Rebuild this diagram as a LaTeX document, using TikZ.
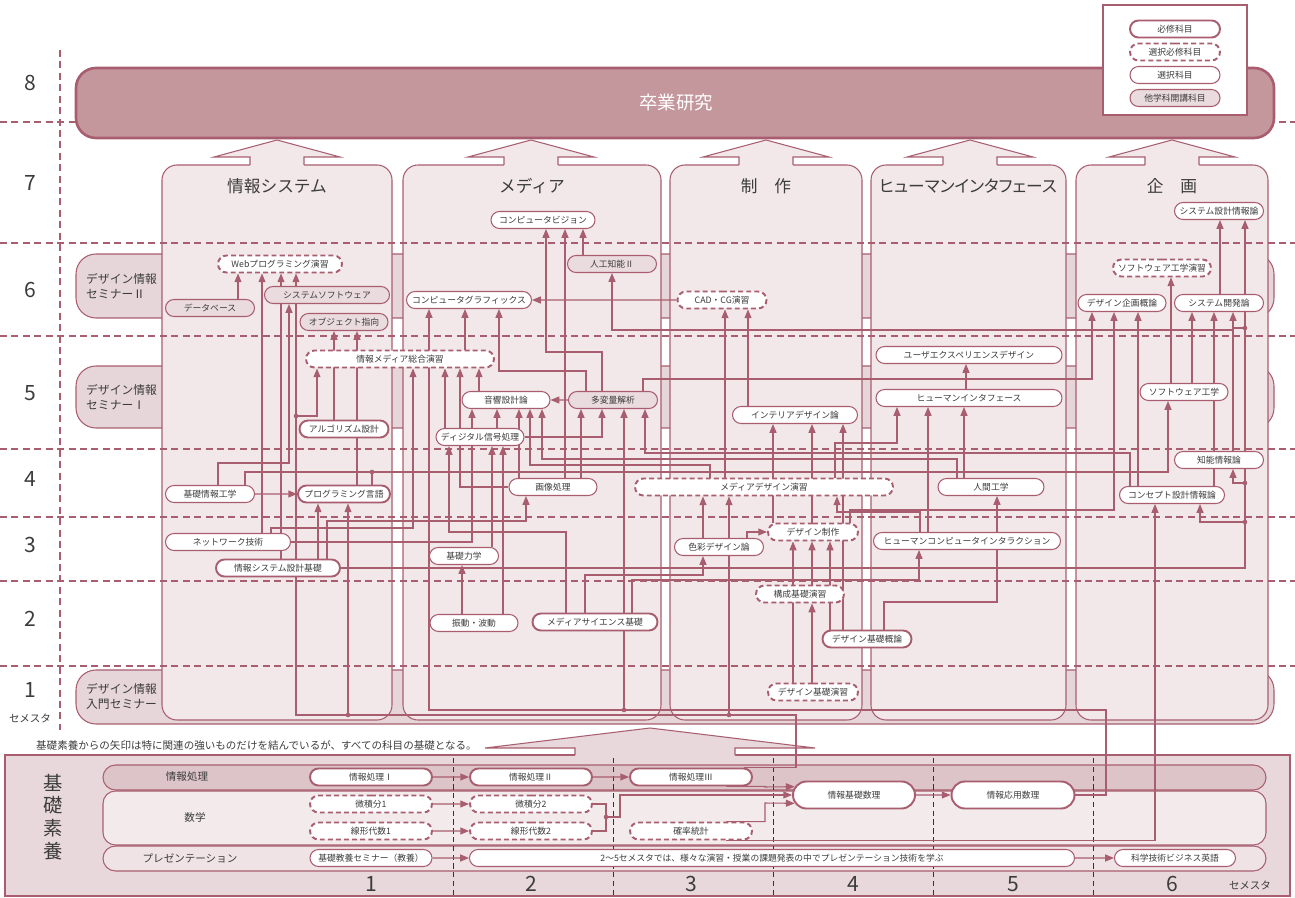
\documentclass[tikz,border=0pt]{standalone}
\usepackage{fontspec}
\setmainfont{Noto Sans CJK JP}
\usetikzlibrary{arrows.meta,shapes.misc}

\definecolor{rose}{RGB}{168,94,110}
\definecolor{colfill}{RGB}{242,232,234}
\definecolor{semfill}{RGB}{230,213,217}
\definecolor{gradfill}{RGB}{196,151,157}
\definecolor{othfill}{RGB}{234,219,222}
\definecolor{kisofill}{RGB}{232,216,219}
\definecolor{rowdark}{RGB}{220,196,200}
\definecolor{rowlight}{RGB}{243,234,236}
\definecolor{txt}{RGB}{60,60,60}

\pgfdeclarelayer{back}
\pgfdeclarelayer{wires}
\pgfsetlayers{back,wires,main}

\tikzset{
  subj/.style={rounded rectangle, draw=rose, fill=white, text=txt, inner sep=0pt,
    minimum height=0.34cm, font=\fontsize{5}{6}\selectfont},
  req/.style={subj, line width=1.1pt},
  selreq/.style={subj, line width=1.1pt, dash pattern=on 2.8pt off 1.8pt},
  sel/.style={subj, line width=0.6pt},
  oth/.style={subj, line width=0.6pt, fill=othfill},
  wd/.style={minimum width=#1*0.02cm},
  wire/.style={draw=rose, line width=0.6pt},
  arr/.style={wire, -{Triangle[length=5pt,width=4pt]}},
  semline/.style={draw=rose, line width=0.6pt, dash pattern=on 4pt off 2.5pt},
  coltitle/.style={text=txt, font=\fontsize{9.5}{11}\selectfont},
  semnum/.style={text=txt, font=\fontsize{12}{14}\selectfont},
  seminar/.style={text=txt, anchor=west, align=left, font=\fontsize{6.7}{8.5}\selectfont},
  rowlabel/.style={text=txt, font=\fontsize{6}{7}\selectfont},
}

\begin{document}
\begin{tikzpicture}[x=0.02cm,y=-0.02cm]
\useasboundingbox (0,0) rectangle (1295,898);

\begin{pgfonlayer}{back}
% seminar strips
\foreach \ya/\yb in {254/318,366/428,670/724}
  \draw[rose, fill=semfill, line width=0.6pt, rounded corners=0.4cm] (76,\ya) rectangle (1274,\yb);
% areas
\foreach \xa/\xb in {162/392,403/661,670/862,871/1066,1076/1268}
  \draw[rose, fill=colfill, line width=0.6pt, rounded corners=0.3cm] (\xa,165) rectangle (\xb,720);
% semesters
\foreach \y in {122,243,336,449,517,581,666}
  \draw[semline] (0,\y) -- (1295,\y);
\draw[semline] (60,50) -- (60,730);
% graduation research
\draw[rose, fill=gradfill, line width=1.5pt, rounded corners=0.4cm] (76,68) rectangle (1274,138);
\foreach \cx in {277,531,766,970,1172}{
  \fill[colfill] (\cx-27,167) -- (\cx-27,157) -- (\cx-63,157) -- (\cx,140) -- (\cx+63,157) -- (\cx+27,157) -- (\cx+27,167) -- cycle;
  \draw[rose, line width=0.6pt] (\cx-27,165) -- (\cx-27,157) -- (\cx-63,157) -- (\cx,140) -- (\cx+63,157) -- (\cx+27,157) -- (\cx+27,165);
}
% legend
\draw[rose, fill=white, line width=0.6pt] (1103,5) rectangle (1247,115);
% basics
\draw[rose, fill=kisofill, line width=0.6pt] (5,755) rectangle (1290,896);
\fill[kisofill] (575,757) -- (575,748) -- (485,748) -- (650,728) -- (815,748) -- (735,748) -- (735,757) -- cycle;
\draw[rose, line width=0.6pt] (575,755) -- (575,748) -- (485,748) -- (650,728) -- (815,748) -- (735,748) -- (735,755);
\draw[rose, fill=rowdark, line width=0.6pt, rounded corners=0.25cm] (103,765) rectangle (1266,790);
\draw[rose, fill=rowlight, line width=0.6pt, rounded corners=0.25cm] (103,791) rectangle (1266,845);
\draw[rose, fill=rowlight!60!kisofill, line width=0.6pt, rounded corners=0.25cm] (103,846) rectangle (1266,871);
\foreach \x in {453,613,773,933,1093}
  \draw[black!80, line width=0.5pt, dash pattern=on 3pt off 2pt] (\x,758) -- (\x,898);
\end{pgfonlayer}

% labels
\node[semnum] (s8) at (30,83) {8};
\node[semnum] (s7) at (30,183) {7};
\node[semnum] (s6) at (30,290) {6};
\node[semnum] (s5) at (30,393) {5};
\node[semnum] (s4) at (30,479) {4};
\node[semnum] (s3) at (30,545) {3};
\node[semnum] (s2) at (30,619) {2};
\node[semnum] (s1) at (30,690) {1};
\node[rowlabel] (smst) at (30,718) {セメスタ};

\node[text=white, font=\fontsize{10.5}{12}\selectfont] (grad) at (676,103) {卒業研究};

\node[seminar] (sem2) at (80,286) {デザイン情報\\セミナーⅡ};
\node[seminar] (sem1) at (80,397) {デザイン情報\\セミナーⅠ};
\node[seminar] (sem0) at (80,696) {デザイン情報\\入門セミナー};

\node[coltitle] (tjs) at (277,186) {情報システム};
\node[coltitle] (tmd) at (532,186) {メディア};
\node[coltitle] (tss) at (766,186) {制　作};
\node[coltitle] (thi) at (968,186) {\addfontfeatures{RawFeature=+palt}ヒューマンインタフェース};
\node[coltitle] (tkk) at (1172,186) {企　画};

% legend
\node[req, wd=90] (lg1) at (1175,29) {必修科目};
\node[selreq, wd=90] (lg2) at (1175,52) {選択必修科目};
\node[sel, wd=90] (lg3) at (1175,75) {選択科目};
\node[oth, wd=90] (lg4) at (1175,98) {他学科開講科目};

% information systems
\node[selreq, wd=124] (web) at (280,264) {Webプログラミング演習};
\node[oth, wd=89] (db) at (210,308) {データベース};
\node[oth, wd=125] (syssoft) at (327,295) {システムソフトウェア};
\node[oth, wd=88] (oop) at (344,322) {オブジェクト指向};
\node[selreq, wd=188] (imsogo) at (400,359) {情報メディア総合演習};
\node[req, wd=89] (algo) at (344,429) {アルゴリズム設計};
\node[sel, wd=89] (kisojoho) at (210,494) {基礎情報工学};
\node[req, wd=92] (proglang) at (344,494) {プログラミング言語};
\node[sel, wd=125] (network) at (228,542) {ネットワーク技術};
\node[req, wd=124] (sysdesign) at (278,568) {情報システム設計基礎};

% media
\node[sel, wd=104] (vision) at (543,220) {コンピュータビジョン};
\node[oth, wd=89] (ai) at (612,264) {人工知能Ⅱ};
\node[sel, wd=125] (cg) at (469,300) {コンピュータグラフィックス};
\node[sel, wd=88] (onkyo) at (506,400) {音響設計論};
\node[oth, wd=89] (tahenryo) at (613,400) {多変量解析};
\node[sel, wd=88] (dsp) at (480,437) {ディジタル信号処理};
\node[sel, wd=88] (gazo) at (553,487) {画像処理};
\node[sel, wd=69] (rikigaku) at (464,556) {基礎力学};
\node[sel, wd=88] (shindo) at (474,623) {振動・波動};
\node[req, wd=125] (msci) at (595,622) {メディアサイエンス基礎};

% production
\node[selreq, wd=89] (cadcg) at (722,300) {CAD・CG演習};
\node[sel, wd=125] (interior) at (795,415) {インテリアデザイン論};
\node[selreq, wd=258] (mdesign) at (764,487) {メディアデザイン演習};
\node[selreq, wd=90] (dseisaku) at (813,532) {デザイン制作};
\node[sel, wd=89] (shikisai) at (719,547) {色彩デザイン論};
\node[selreq, wd=88] (kosei) at (800,594) {構成基礎演習};
\node[req, wd=89] (dgairon) at (867,639) {デザイン基礎概論};
\node[selreq, wd=90] (denshu) at (813,692) {デザイン基礎演習};

% human interface
\node[sel, wd=186] (ux) at (969,355) {ユーザエクスペリエンスデザイン};
\node[sel, wd=186] (hi) at (969,398) {ヒューマンインタフェース};
\node[sel, wd=106] (ningen) at (991,487) {人間工学};
\node[sel, wd=187] (hci) at (967,541) {ヒューマンコンピュータインタラクション};

% planning
\node[sel, wd=89] (sysjoho) at (1219,211) {システム設計情報論};
\node[selreq, wd=98] (swex) at (1162,268) {ソフトウェア工学演習};
\node[sel, wd=88] (dkikaku) at (1122,303) {デザイン企画概論};
\node[sel, wd=89] (syskaihatsu) at (1219,303) {システム開発論};
\node[sel, wd=88] (sweng) at (1184,392) {ソフトウェア工学};
\node[sel, wd=89] (chino) at (1219,460) {知能情報論};
\node[sel, wd=105] (concept) at (1172,495) {コンセプト設計情報論};

% basics
\node[anchor=west, text=txt, font=\fontsize{6}{7}\selectfont] (note) at (30,746)
  {基礎素養からの矢印は特に関連の強いものだけを結んでいるが、すべての科目の基礎となる。};
\node[text=txt, align=center, font=\fontsize{11}{13}\selectfont] (kiso) at (53,817) {基\\礎\\素\\養};
\node[rowlabel] (rjsh) at (187,777) {情報処理};
\node[rowlabel] (rsug) at (195,817) {数学};
\node[rowlabel] (rpre) at (190,858) {プレゼンテーション};
\node[req, wd=122] (jsh1) at (371,777) {情報処理Ⅰ};
\node[req, wd=122] (jsh2) at (531,777) {情報処理Ⅱ};
\node[req, wd=122] (jsh3) at (691,777) {情報処理Ⅲ};
\node[selreq, wd=122] (bs1) at (371,804) {微積分1};
\node[selreq, wd=122] (bs2) at (531,804) {微積分2};
\node[selreq, wd=122] (sd1) at (371,831) {線形代数1};
\node[selreq, wd=122] (sd2) at (531,831) {線形代数2};
\node[selreq, wd=122] (kakuritsu) at (691,831) {確率統計};
\node[req, wd=122, minimum height=0.54cm] (kisosuri) at (854,795) {情報基礎数理};
\node[req, wd=123, minimum height=0.54cm] (oyosuri) at (1013,795) {情報応用数理};
\node[sel, wd=122] (kyoyo) at (371,858) {基礎教養セミナー（教養）};
\node[sel, wd=605] (presen) at (772,858) {2～5セメスタでは、様々な演習・授業の課題発表の中でプレゼンテーション技術を学ぶ};
\node[sel, wd=121] (eigo) at (1175,858) {科学技術ビジネス英語};
\foreach \n/\x in {1/371,2/531,3/691,4/853,5/1013,6/1172}
  \node[semnum] (b\n) at (\x,884) {\n};
\node[rowlabel] (bsmst) at (1250,885) {セメスタ};

\begin{pgfonlayer}{wires}
% information systems
\draw[arr] (db.north -| 238,0) -- (web.south -| 238,0);
\draw[arr] (network.north -| 262,0) -- (web.south -| 262,0);
\draw[arr] (sysdesign.north -| 281,0) -- (web.south -| 281,0);
\draw[arr] (kisojoho.north -| 218,0) |- (289,463) -- (syssoft.south -| 289,0);
\draw[arr] (algo.north -| 334,0) -- (oop.south -| 334,0);
\draw[arr] (proglang.north -| 357,0) -- (oop.south -| 357,0);
\draw[arr] (kisojoho) -- (proglang);
\draw[arr] (sysdesign.north -| 318,0) -- (proglang.south -| 318,0);
\draw[arr] (network.north -| 271,0) |- (413,528) -- (imsogo.south -| 413,0);
\draw[arr] (sysdesign.north -| 327,0) |- (526,521) -- (gazo.south -| 526,0);
\draw[arr] (kisojoho.north -| 245,0) |- (1168,472) -- (sweng.south -| 1168,0);
\draw[wire] (proglang.north -| 372,0) -- (372,472);
\draw[arr] (network.east) -| (onkyo.south -| 472,0);
\draw[arr] (sysdesign.east) -| (sysjoho.south -| 1245,0);
\draw[arr] (1245,522) -| (concept.south -| 1200,0);
\draw[arr] (1245,483) -| (chino.south -| 1233,0);
\draw[wire] (1245,328) -- (1233,328);
\draw[arr] (chino.north -| 1233,0) -- (syskaihatsu.south -| 1233,0);
\draw[arr] (1233,330) -| (ai.south);
% feed from the basics
\draw[wire] (jsh3.10) -| (796,715) -- (296,715) -- (296,416);
\draw[arr] (296,416) -- (web.south -| 296,0);
\draw[arr] (296,416) -| (imsogo.south -| 317,0);
\draw[arr] (348,715) -- (proglang.south -| 348,0);
\draw[arr] (729,715) -- (mdesign.south -| 729,0);
\draw[arr] (oyosuri.east) -| (1106,710) -| (cg.south -| 429,0);
\draw[arr] (624,710) -- (tahenryo.south -| 624,0);
\draw[arr] (kakuritsu.-15) -| (concept.south -| 1155,0);
% media
\draw[arr] (ai.north -| 583,0) -- (vision.south -| 583,0);
\draw[arr] (gazo.north -| 565,0) -- (vision.south -| 565,0);
\draw[arr] (tahenryo.north -| 602,0) |- (546,352) -- (vision.south -| 546,0);
\draw[arr] (cadcg) -- (cg);
\draw[arr] (imsogo.north -| 465,0) -- (cg.south -| 465,0);
\draw[arr] (tahenryo.north -| 586,0) |- (499,371) -- (cg.south -| 499,0);
\draw[arr] (interior.north -| 748,0) -- (cadcg.south -| 748,0);
\draw[arr] (mdesign.north -| 725,0) -- (cadcg.south -| 725,0);
\draw[arr] (dsp.north -| 445,0) -- (imsogo.south -| 445,0);
\draw[arr] (gazo.west) -| (imsogo.south -| 460,0);
\draw[arr] (onkyo.north -| 479,0) -- (imsogo.south -| 479,0);
\draw[arr] (tahenryo) -- (onkyo);
\draw[arr] (dsp.north -| 497,0) -- (onkyo.south -| 497,0);
\draw[arr] (gazo.north -| 519,0) -- (onkyo.south -| 519,0);
\draw[arr] (mdesign.north -| 710,0) |- (530,465) -- (onkyo.south -| 530,0);
\draw[arr] (ningen.north -| 957,0) |- (542,459) -- (onkyo.south -| 542,0);
\draw[arr] (gazo.north -| 581,0) -- (tahenryo.south -| 581,0);
\draw[arr] (dsp.east) -| (tahenryo.south -| 602,0);
\draw[arr] (concept.north -| 1130,0) |- (645,453) -- (tahenryo.south -| 645,0);
\draw[arr] (msci.north -| 566,0) |- (449,532) -- (dsp.south -| 449,0);
\draw[arr] (rikigaku.north -| 492,0) -- (dsp.south -| 492,0);
\draw[arr] (shindo.north -| 503,0) -- (dsp.south -| 503,0);
\draw[arr] (shindo.north -| 462,0) -- (rikigaku.south -| 462,0);
\draw[arr] (msci.north -| 585,0) |- (703,575) -- (shikisai.south -| 703,0);
\draw[arr] (msci.north -| 632,0) |- (919,580) -- (hci.south -| 919,0);
\draw[arr] (tahenryo.north -| 643,0) |- (1092,379) -- (dkikaku.south -| 1092,0);
% production
\draw[arr] (shikisai.north -| 703,0) -- (mdesign.south -| 703,0);
\draw[arr] (shikisai.north -| 747,0) |- (dseisaku.west);
\draw[arr] (hci.north -| 920,0) |- (837,512) -- (mdesign.south -| 837,0);
\draw[arr] (dseisaku.north -| 773,0) -- (interior.south -| 773,0);
\draw[arr] (dseisaku.north -| 812,0) -- (interior.south -| 812,0);
\draw[arr] (dgairon.north -| 843,0) -- (interior.south -| 843,0);
\draw[arr] (mdesign.north -| 835,0) |- (897,443) -- (hi.south -| 897,0);
\draw[arr] (denshu.north -| 793,0) -- (dseisaku.south -| 793,0);
\draw[arr] (denshu.north -| 812,0) -- (kosei.south -| 812,0);
\draw[arr] (kosei.north -| 812,0) -- (dseisaku.south -| 812,0);
\draw[arr] (dgairon.north -| 830,0) -- (dseisaku.south -| 830,0);
\draw[arr] (dseisaku.north -| 850,0) |- (1114,510) -- (dkikaku.south -| 1114,0);
% human interface
\draw[arr] (hi.north -| 966,0) -- (ux.south -| 966,0);
\draw[arr] (hci.north -| 928,0) -- (hi.south -| 928,0);
\draw[arr] (ningen.north -| 964,0) -- (hi.south -| 964,0);
\draw[arr] (dgairon.north -| 884,0) |- (997,602) -- (ningen.south -| 997,0);
% planning
\draw[arr] (syskaihatsu.north -| 1220,0) -- (sysjoho.south -| 1220,0);
\draw[arr] (sweng.north -| 1171,0) -- (swex.south -| 1171,0);
\draw[arr] (concept.north -| 1138,0) -- (dkikaku.south -| 1138,0);
\draw[arr] (sweng.north -| 1192,0) -- (syskaihatsu.south -| 1192,0);
\draw[arr] (concept.north -| 1214,0) -- (syskaihatsu.south -| 1214,0);
% basics
\draw[arr] (jsh1) -- (jsh2);
\draw[arr] (jsh2) -- (jsh3);
\draw[arr] (jsh3.-15) -| (765,787) -- (kisosuri.172);
\draw[arr] (bs1) -- (bs2);
\draw[arr] (sd1) -- (sd2);
\draw[wire] (bs2.east) -| (606,817);
\draw[wire] (sd2.east) -| (606,817);
\draw[arr] (606,817) -- (620,817) |- (kisosuri.west);
\draw[arr] (kakuritsu.15) -| (765,803) -- (kisosuri.188);
\draw[arr] (kisosuri) -- (oyosuri);
\draw[arr] (kyoyo) -- (presen);
\draw[arr] (presen) -- (eigo);
\foreach \p in {(296,416),(348,715),(729,715),(372,472),(624,710),(1245,522),(1245,483),(1245,328),(606,817)}
  \fill[rose] \p circle (1.3pt);
\end{pgfonlayer}
\end{tikzpicture}
\end{document}
